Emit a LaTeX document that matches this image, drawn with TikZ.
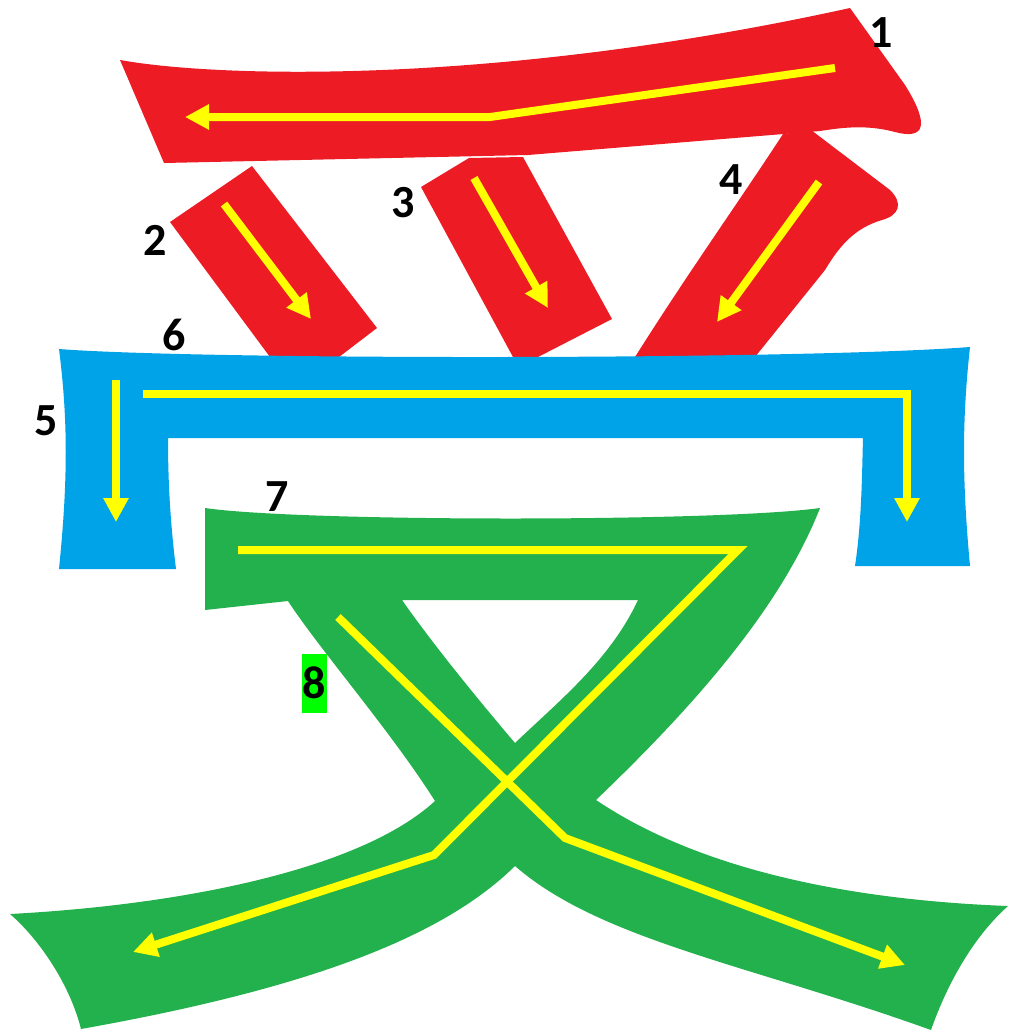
\documentclass[tikz,border=0pt]{standalone}
\usepackage{fontspec}
\setmainfont{Carlito}
\usepackage{tikz}
\usetikzlibrary{arrows.meta}
\definecolor{strokered}{HTML}{ED1C24}
\definecolor{strokeblue}{HTML}{00A2E8}
\definecolor{strokegreen}{HTML}{22B14C}
\definecolor{orderyellow}{HTML}{FFFF00}
\definecolor{labelgreen}{HTML}{00FF00}

\begin{document}
\begin{tikzpicture}[
  x=1pt, y=-1pt,
  order/.style={draw=orderyellow, line width=8pt, line join=miter,
                -{Triangle[length=24pt, width=24pt]}},
  num/.style={font=\fontsize{46}{46}\selectfont\bfseries, inner sep=0pt},
]
\useasboundingbox (0,0) rectangle (1012,1031);

% Strokes 1-4
\fill[strokered] (120,60) .. controls (220,78) and (500,85) .. (850,8)
  -- (905,85) .. controls (930,125) and (925,140) .. (895,132)
  .. controls (865,124) and (840,128) .. (820,131) -- (528,155) -- (164,163) -- cycle;
\fill[strokered] (170,222) -- (252,166) -- (377,328) -- (339,357) -- (270,357) -- cycle;
\fill[strokered] (421,187) -- (469,158) -- (523,157) -- (612,319) -- (538,357) -- (513,357) -- cycle;
\fill[strokered] (783,134) -- (811,130) -- (890,190)
  .. controls (903,203) and (900,215) .. (882,220)
  .. controls (855,228) and (840,245) .. (825,270) -- (755,357) -- (635,357)
  .. controls (690,270) and (740,200) .. (783,134);

% Strokes 5-6
\fill[strokeblue] (59,349) .. controls (200,360) and (800,360) .. (970,347)
  .. controls (962,420) and (962,480) .. (970,566) -- (855,566)
  .. controls (862,520) and (862,470) .. (863,438) -- (168,438)
  .. controls (168,480) and (170,520) .. (176,569) -- (59,569)
  .. controls (68,480) and (68,420) .. (59,349) -- cycle;

% Strokes 7-8
\fill[strokegreen, even odd rule] (205,508) .. controls (300,522) and (720,522) .. (820,508)
  .. controls (780,610) and (690,710) .. (596,800)
  .. controls (700,870) and (850,900) .. (1008,906)
  .. controls (970,940) and (945,990) .. (931,1030)
  .. controls (750,965) and (600,940) .. (515,866)
  .. controls (440,940) and (300,990) .. (81,1029)
  .. controls (70,985) and (40,940) .. (10,914)
  .. controls (180,905) and (360,870) .. (435,801)
  .. controls (390,730) and (320,650) .. (288,601)
  -- (205,610) -- cycle
  (402,600) -- (638,600) .. controls (610,660) and (560,700) .. (515,743)
  .. controls (470,690) and (430,640) .. (402,600) -- cycle;

% Order arrows
\draw[order] (835,68) -- (490,117) -- (185,117);
\draw[order] (224,204) -- (311,319);
\draw[order] (474,178) -- (548,308);
\draw[order] (819,182) -- (717,322);
\draw[order] (116,380) -- (116,522);
\draw[order] (143,394) -- (907,394) -- (907,522);
\draw[order] (238,550) -- (738,550) -- (434,855) -- (133,952);
\draw[order] (338,617) -- (565,838) -- (905,965);

% Numbers
\node[num] (num1) at (881,33) {1};
\node[num] (num2) at (155,240) {2};
\node[num] (num3) at (403,203) {3};
\node[num] (num4) at (731,180) {4};
\node[num] (num5) at (46,421) {5};
\node[num] (num6) at (174,335) {6};
\node[num] (num7) at (277,497) {7};
\node[num, fill=labelgreen, minimum width=25pt, minimum height=59pt] (num8) at (314,683) {8};

\end{tikzpicture}
\end{document}
